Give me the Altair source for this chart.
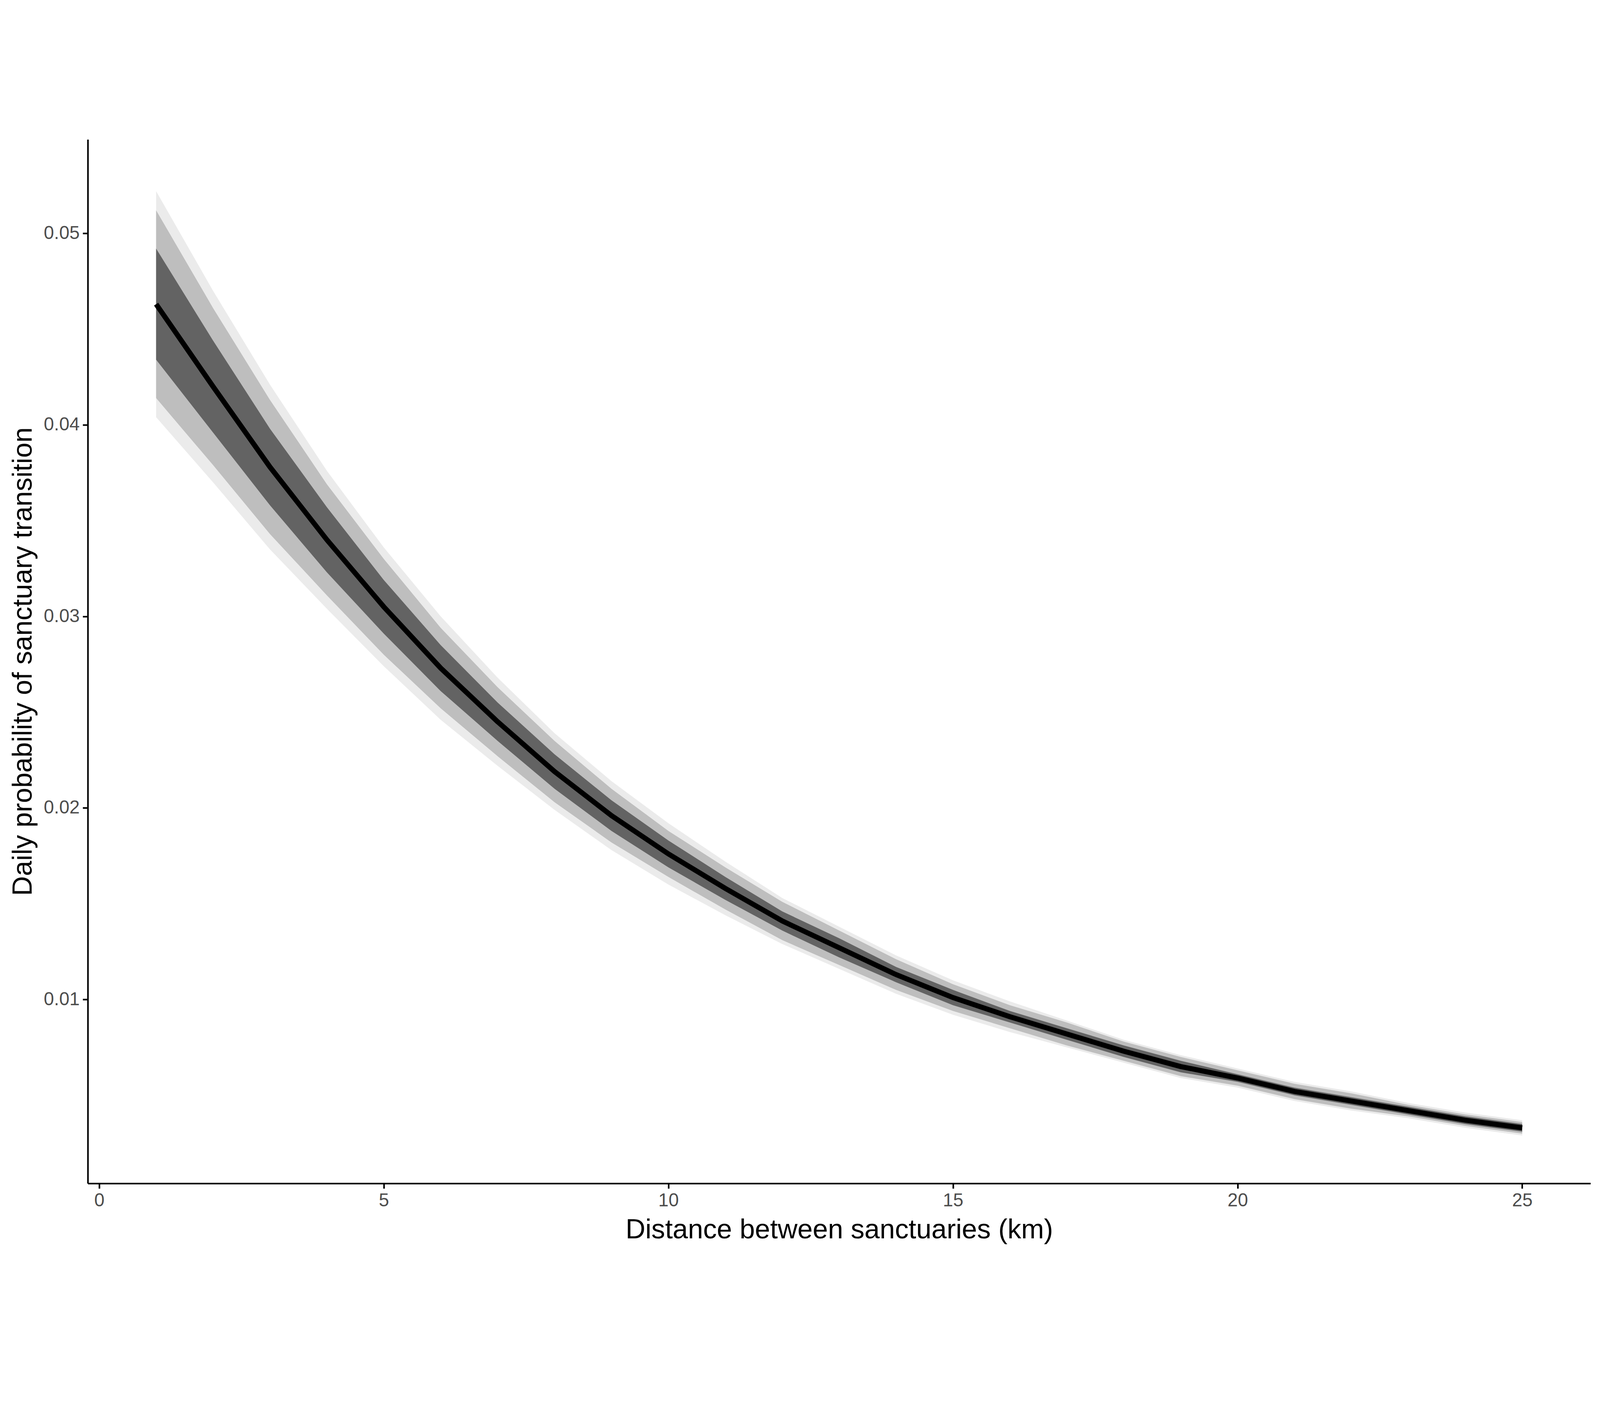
import pandas as pd
import altair as alt

distance = list(range(1, 26))
prob = [.0463, .0420, .0378, .0340, .0305, .0273, .0245, .0219, .0196, .0176,
        .0158, .0141, .0127, .0113, .0101, .0091, .0082, .0073, .0065, .0059,
        .0052, .0047, .0042, .0037, .0033]
# half widths of the three intervals
inner_hw = [.0029, .0024, .0020, .0017, .0014, .0012, .0010, .0009, .0008, .0007,
            .0006, .0005, .0005, .0004, .0004, .0003, .0003, .0003, .0003, .0002,
            .0002, .0002, .0002, .0002, .0002]
mid_hw = [.0049, .0041, .0035, .0029, .0025, .0021, .0018, .0016, .0014, .0012,
          .0011, .0010, .0009, .0008, .0007, .0006, .0006, .0005, .0005, .0004,
          .0004, .0004, .0003, .0003, .0003]
outer_hw = [.0059, .0050, .0043, .0036, .0031, .0027, .0023, .0020, .0018, .0016,
            .0014, .0012, .0011, .0010, .0009, .0008, .0007, .0006, .0006, .0005,
            .0005, .0005, .0004, .0004, .0004]

df = pd.DataFrame({"x": distance, "p": prob})
for name, hw in [("outer", outer_hw), ("mid", mid_hw), ("inner", inner_hw)]:
    df[name + "_lo"] = [p - h for p, h in zip(prob, hw)]
    df[name + "_hi"] = [p + h for p, h in zip(prob, hw)]

x_enc = alt.X("x:Q", scale=alt.Scale(domain=[-0.2, 26.2], nice=False, zero=False),
              axis=alt.Axis(values=[0, 5, 10, 15, 20, 25], title="Distance between sanctuaries (km)"))
y_axis = alt.Axis(values=[0.01, 0.02, 0.03, 0.04, 0.05], format=".2f",
                  title="Daily probability of sanctuary transition")
y_scale = alt.Scale(domain=[0.0004, 0.0549], nice=False, zero=False)

base = alt.Chart(df)
layers = []
for name, col in [("outer", "#ebebeb"), ("mid", "#bebebe"), ("inner", "#636363")]:
    layers.append(base.mark_area(color=col, opacity=1).encode(
        x=x_enc,
        y=alt.Y(name + "_lo:Q", scale=y_scale, axis=y_axis),
        y2=name + "_hi:Q"))
line = base.mark_line(color="black", strokeWidth=16).encode(
    x=x_enc, y=alt.Y("p:Q", scale=y_scale, axis=y_axis))

chart = alt.layer(*layers, line).properties(
    width=4720, height=3280,
    padding={"left": 20, "top": 30, "right": 20, "bottom": 10},
    background="white",
).configure_view(strokeWidth=0).configure_axis(
    grid=False, domainColor="black", domainWidth=5, tickColor="black", tickWidth=5,
    tickSize=16, labelFontSize=58, labelColor="#4d4d4d", labelFont="Liberation Sans",
    titleFontSize=86, titleFont="Liberation Sans", titleFontWeight="normal",
    titleColor="black", labelPadding=10, titlePadding=20,
)

chart.save("out.html", embed_options={"renderer": "svg", "actions": False})
